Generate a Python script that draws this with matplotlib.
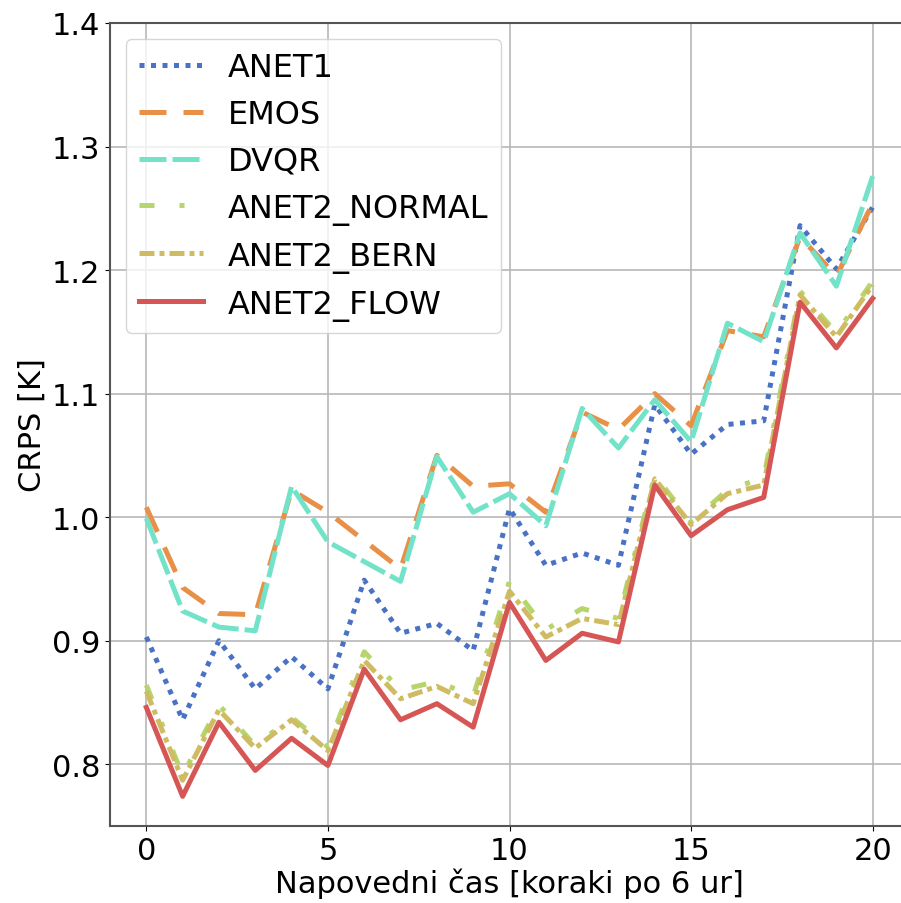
import matplotlib
matplotlib.use("Agg")
import matplotlib.pyplot as plt

steps = list(range(21))

anet1 = [0.903, 0.836, 0.900, 0.861, 0.887, 0.861, 0.949, 0.906, 0.914, 0.892, 1.007,
         0.961, 0.971, 0.961, 1.091, 1.051, 1.075, 1.078, 1.236, 1.201, 1.251]
emos = [1.008, 0.943, 0.922, 0.921, 1.022, 1.004, 0.981, 0.958, 1.050, 1.025, 1.027,
        1.004, 1.085, 1.071, 1.100, 1.074, 1.151, 1.146, 1.227, 1.195, 1.254]
dvqr = [0.999, 0.924, 0.911, 0.908, 1.025, 0.980, 0.964, 0.948, 1.049, 1.004, 1.019,
        0.993, 1.088, 1.056, 1.095, 1.061, 1.157, 1.142, 1.230, 1.187, 1.276]
normal = [0.864, 0.791, 0.848, 0.815, 0.838, 0.814, 0.891, 0.860, 0.867, 0.855, 0.948,
          0.909, 0.926, 0.918, 1.034, 0.996, 1.022, 1.032, 1.183, 1.149, 1.191]
bern = [0.859, 0.787, 0.844, 0.813, 0.836, 0.811, 0.884, 0.853, 0.863, 0.849, 0.940,
        0.903, 0.918, 0.913, 1.031, 0.994, 1.019, 1.026, 1.180, 1.146, 1.188]
flow = [0.846, 0.774, 0.834, 0.795, 0.821, 0.799, 0.877, 0.836, 0.849, 0.830, 0.931,
        0.884, 0.906, 0.899, 1.026, 0.985, 1.006, 1.016, 1.174, 1.137, 1.177]

lw = 3.6
fig = plt.figure(figsize=(9.01, 9.04), dpi=100)
ax = fig.add_axes([110 / 901, 77 / 904, 799 / 901, 803 / 904])

ax.plot(steps, anet1, color="#4a72c4", lw=lw, linestyle=(0, (1, 1.3)), label="ANET1")
ax.plot(steps, emos, color="#e89048", lw=lw, linestyle=(0, (5.4, 3.4)), label="EMOS")
ax.plot(steps, dvqr, color="#72e3c9", lw=lw, linestyle=(0, (5.4, 1.2)), label="DVQR")
ax.plot(steps, normal, color="#b6d56c", lw=lw, linestyle=(0, (3, 5, 1, 5)), label="ANET2_NORMAL")
ax.plot(steps, bern, color="#cfbc62", lw=lw, linestyle=(0, (3, 1, 1, 1)), label="ANET2_BERN")
ax.plot(steps, flow, color="#d65656", lw=lw, linestyle="-", label="ANET2_FLOW")

ax.set_xlim(-1, 21)
ax.set_ylim(0.75, 1.4)
ax.set_xticks([0, 5, 10, 15, 20])
ax.grid(True, color="#b8b8b8", lw=1.2)
ax.tick_params(labelsize=22)
for s in ax.spines.values():
    s.set_color("#555555")
    s.set_linewidth(1.5)
ax.set_xlabel("Napovedni čas [koraki po 6 ur]", fontsize=22, labelpad=2)
ax.set_ylabel("CRPS [K]", fontsize=22)
ax.legend(loc="upper left", fontsize=23, handlelength=2.0, labelspacing=0.5)

fig.savefig("out.png", dpi=100)
